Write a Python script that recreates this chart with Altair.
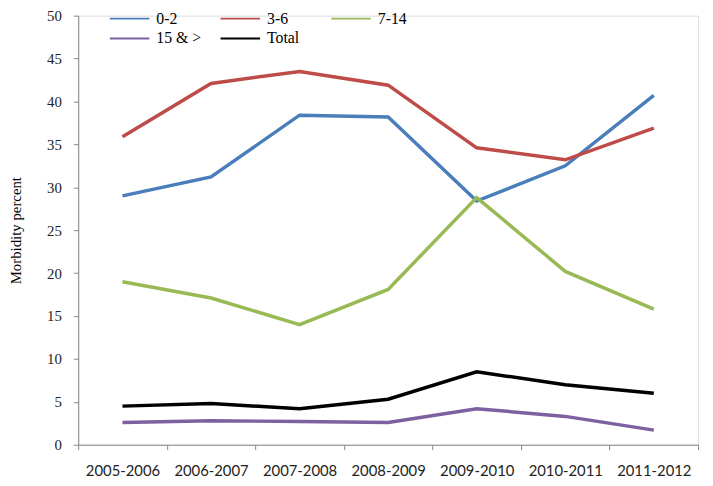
import altair as alt
import pandas as pd

years = ["2005-2006", "2006-2007", "2007-2008", "2008-2009", "2009-2010", "2010-2011", "2011-2012"]
series_names = ["0-2", "3-6", "7-14", "15 & >", "Total"]
v_0_2 = [29.0, 31.2, 38.4, 38.2, 28.4, 32.5, 40.7]
v_3_6 = [35.9, 42.1, 43.5, 41.9, 34.6, 33.2, 36.9]
v_7_14 = [19.0, 17.1, 14.0, 18.1, 28.8, 20.2, 15.8]
v_15 = [2.6, 2.8, 2.7, 2.6, 4.2, 3.3, 1.7]
v_total = [4.5, 4.8, 4.2, 5.3, 8.5, 7.0, 6.0]
colors = ["#4A7EBB", "#BE4B48", "#98B954", "#7D60A0", "#000000"]

SERIF = "'Times New Roman', 'Liberation Serif', serif"

rows = []
for name, vals in zip(series_names, [v_0_2, v_3_6, v_7_14, v_15, v_total]):
    for y, v in zip(years, vals):
        rows.append({"Year": y, "Group": name, "Value": v})
df = pd.DataFrame(rows)

chart = alt.Chart(df).mark_line(strokeWidth=3.5).encode(
    x=alt.X("Year:N", sort=years,
            scale=alt.Scale(type="band", paddingInner=0, paddingOuter=0),
            axis=alt.Axis(title=None, tickBand="extent", labelAngle=0,
                          labelFont="Lato", labelFontSize=15, labelColor="#222",
                          labelPadding=14, domainColor="#868686", tickColor="#868686",
                          tickSize=5, grid=False)),
    y=alt.Y("Value:Q", scale=alt.Scale(domain=[0, 50], nice=False),
            axis=alt.Axis(title="Morbidity percent", values=list(range(0, 51, 5)),
                          titleFont=SERIF, titleFontSize=15,
                          titleFontWeight="normal", titleColor="#000",
                          titlePadding=23,
                          labelFont=SERIF, labelFontSize=15, labelColor="#222",
                          labelPadding=12, domainColor="#868686", tickColor="#868686",
                          tickSize=5, grid=False)),
    color=alt.Color("Group:N", sort=series_names,
                    scale=alt.Scale(domain=series_names, range=colors),
                    legend=alt.Legend(title=None, orient="none", legendX=41, legendY=-8,
                                      direction="horizontal", columns=3,
                                      symbolType="M-2,0H2", symbolSize=400,
                                      symbolStrokeWidth=2, labelOffset=16,
                                      gridAlign="all", columnPadding=15, rowPadding=1,
                                      labelFont=SERIF, labelFontSize=16,
                                      labelColor="#000")),
).properties(
    width=627, height=434,
    autosize=alt.AutoSizeParams(type="none"),
    padding={"left": 71, "top": 5, "right": 7, "bottom": 39},
).configure_view(stroke=None).configure(background="white")

chart.save("out.html", embed_options={"renderer": "svg", "actions": False})
